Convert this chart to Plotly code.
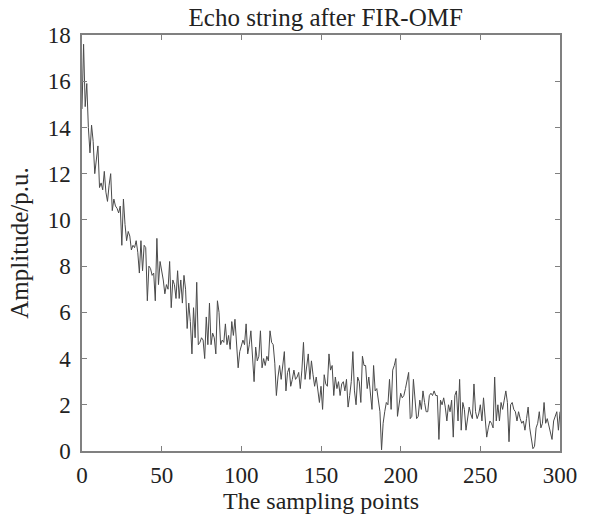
import plotly.graph_objects as go

amplitude = [
    14.8, 17.6, 14.9, 15.9, 14.0, 12.9, 14.1, 13.4, 12.0, 12.6,
    13.2, 11.4, 11.6, 11.3, 12.1, 11.2, 10.8, 11.5, 12.0, 10.4,
    10.9, 10.6, 10.5, 10.3, 10.6, 8.9, 10.9, 9.8, 9.1, 9.5,
    9.3, 8.7, 8.9, 8.8, 9.1, 8.6, 7.7, 9.1, 7.8, 8.9,
    8.8, 6.5, 8.0, 7.9, 7.6, 7.7, 6.5, 9.2, 7.2, 8.2,
    7.8, 7.4, 6.8, 7.2, 7.0, 8.2, 6.2, 7.4, 7.2, 6.6,
    7.8, 6.6, 7.4, 6.4, 7.6, 7.0, 5.3, 6.4, 5.6, 4.2,
    6.2, 4.9, 7.3, 4.6, 4.7, 4.9, 4.8, 4.0, 5.8, 4.6,
    6.4, 4.6, 5.1, 4.9, 4.2, 6.5, 6.0, 4.6, 4.8, 4.7,
    5.5, 4.6, 5.0, 4.4, 5.6, 5.0, 5.7, 4.8, 3.6, 4.3,
    4.5, 4.8, 4.6, 5.5, 4.2, 4.6, 5.2, 4.3, 3.0, 4.5,
    3.9, 4.1, 5.2, 3.6, 4.0, 3.7, 4.1, 3.9, 5.2, 4.7,
    4.6, 3.8, 2.4, 3.2, 3.7, 3.1, 3.6, 4.3, 2.6, 3.4,
    3.6, 2.8, 3.1, 3.5, 3.1, 3.2, 3.4, 2.7, 3.5, 4.7,
    3.1, 3.6, 4.2, 3.1, 3.9, 3.3, 2.8, 3.2, 2.7, 2.1,
    2.8, 1.8, 3.3, 2.9, 2.8, 4.2, 3.5, 3.7, 2.4, 3.2,
    2.7, 3.0, 2.4, 2.9, 3.0, 2.6, 3.1, 1.9, 2.4, 3.0,
    4.3, 2.6, 2.0, 3.2, 3.0, 2.1, 4.1, 3.7, 3.7, 2.7,
    3.2, 2.5, 1.8, 3.7, 2.6, 2.7, 2.2, 1.7, 0.05, 1.2,
    1.7, 2.1, 2.0, 3.1, 1.8, 3.5, 3.7, 4.0, 1.5, 2.0,
    2.5, 2.3, 2.4, 2.7, 3.1, 3.4, 1.4, 1.5, 3.1, 2.4,
    1.4, 1.5, 2.2, 1.8, 2.6, 2.1, 1.7, 1.7, 2.4, 2.5,
    2.4, 2.6, 2.4, 2.4, 0.5, 2.2, 2.0, 2.3, 1.9, 1.3,
    2.0, 1.7, 2.2, 0.6, 2.4, 2.6, 1.3, 3.1, 0.9, 2.1,
    1.8, 0.9, 1.5, 1.9, 1.6, 1.4, 2.9, 1.7, 1.4, 1.6,
    2.0, 1.3, 2.3, 1.5, 0.6, 1.0, 1.3, 1.2, 1.0, 3.2,
    1.3, 2.0, 1.3, 2.1, 1.8, 2.2, 2.6, 2.1, 0.4, 2.0,
    2.1, 1.8, 1.7, 1.3, 1.7, 1.4, 1.2, 1.3, 0.9, 1.4,
    1.9, 1.0, 0.6, 0.1, 0.2, 1.0, 1.2, 1.7, 1.0, 1.2,
    2.1, 1.2, 1.4, 1.1, 0.8, 0.5, 1.3, 1.5, 1.7, 0.9,
    1.7,
]
sample_index = list(range(len(amplitude)))

x_ticks = [0, 50, 100, 150, 200, 250, 300]
y_ticks = [0, 2, 4, 6, 8, 10, 12, 14, 16, 18]

title_text = "Echo string after FIR-OMF"
x_label = "The sampling points"
y_label = "Amplitude/p.u."

font_family = "Liberation Serif, Times New Roman, serif"
text_color = "#222222"
frame_color = "#808080"

fig = go.Figure()
fig.add_trace(go.Scatter(
    x=sample_index, y=amplitude, mode="lines",
    line=dict(color="#4a4a4a", width=1),
    showlegend=False,
))

axis_common = dict(
    showline=True, linecolor=frame_color, linewidth=1.5, mirror="ticks",
    ticks="inside", ticklen=5, tickcolor=frame_color, tickwidth=1,
    showgrid=False, zeroline=False,
    tickfont=dict(family=font_family, size=23, color=text_color),
)

fig.update_layout(
    width=589, height=519,
    margin=dict(l=82, r=22, t=35, b=58),
    paper_bgcolor="white", plot_bgcolor="white",
    title=dict(text=title_text, x=0.553, xanchor="center", y=0.967, yanchor="middle",
               font=dict(family=font_family, size=25, color=text_color)),
    xaxis=dict(range=[0, 300], tickvals=x_ticks, ticklabelstandoff=3,
               title=dict(text=x_label, font=dict(family=font_family, size=24, color=text_color), standoff=2),
               **axis_common),
    yaxis=dict(range=[0, 18], tickvals=y_ticks, ticklabelstandoff=5,
               title=dict(text=y_label, font=dict(family=font_family, size=25, color=text_color), standoff=12),
               **axis_common),
)

fig.write_html("out.html")
